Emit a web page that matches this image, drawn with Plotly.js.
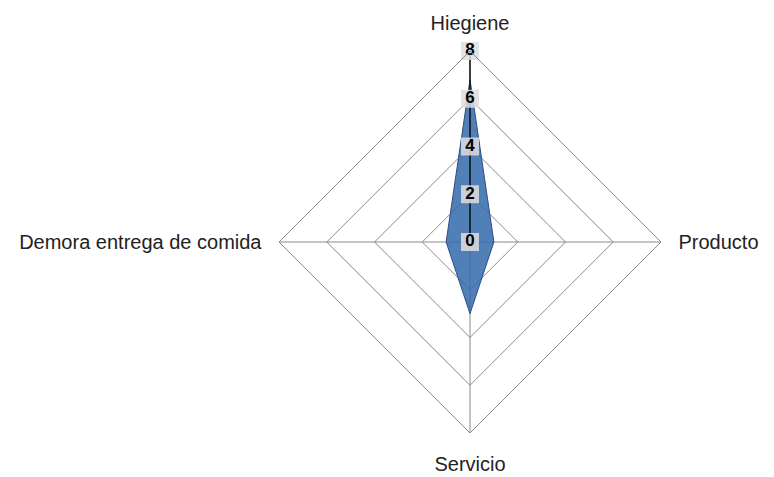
<!DOCTYPE html>
<html>
<head>
<meta charset="utf-8">
<script src="https://cdn.plot.ly/plotly-3.0.1.min.js"></script>
<style>html,body{margin:0;padding:0;background:#fff;}#chart{width:774px;height:477px;}</style>
</head>
<body>
<div id="chart"></div>
<script>
var categories = ["Hiegiene", "Producto", "Servicio", "Demora entrega de comida"];
var values = [6.8, 1, 3, 1];
var radialTicks = [0, 2, 4, 6, 8];
var radialTickText = ["0", "2", "4", "6", "8"];

var closedTheta = categories.concat([categories[0]]);
var closedR = values.concat([values[0]]);
// keep the centre label drawable (a point exactly at the radial minimum is dropped)
var labelR = radialTicks.map(function (v) { return Math.max(v, 1e-6); });

var traces = [
  {
    type: "scatterpolar",
    r: closedR,
    theta: closedTheta,
    mode: "lines",
    fill: "toself",
    fillcolor: "rgba(50,105,172,0.85)",
    line: {color: "#2a4f80", width: 1},
    hoverinfo: "skip",
    showlegend: false
  },
  {
    type: "scatterpolar",
    r: [radialTicks[0], radialTicks[radialTicks.length - 1]],
    theta: [categories[0], categories[0]],
    mode: "lines",
    line: {color: "#111", width: 1.5},
    cliponaxis: false,
    hoverinfo: "skip",
    showlegend: false
  },
  {
    type: "scatterpolar",
    r: labelR,
    theta: radialTicks.map(function () { return categories[0]; }),
    mode: "markers+text",
    text: radialTickText,
    textposition: "middle center",
    cliponaxis: false,
    textfont: {family: "Liberation Sans", size: 17, color: "#000", weight: "bold"},
    marker: {symbol: "square", size: 18, color: "rgba(222,222,222,0.85)", line: {width: 0}},
    hoverinfo: "skip",
    showlegend: false
  }
];

var layout = {
  width: 774,
  height: 477,
  margin: {l: 279, r: 113, t: 51, b: 44},
  paper_bgcolor: "#fff",
  showlegend: false,
  font: {family: "Liberation Sans", size: 20, color: "#222"},
  polar: {
    domain: {x: [0, 1], y: [0, 1]},
    bgcolor: "#fff",
    gridshape: "linear",
    radialaxis: {
      range: [0, 8],
      tickvals: radialTicks,
      showticklabels: false,
      ticks: "",
      showline: false,
      gridcolor: "#8a8a8a",
      gridwidth: 1
    },
    angularaxis: {
      type: "category",
      categoryarray: categories,
      direction: "clockwise",
      rotation: 90,
      showline: true,
      linecolor: "#8a8a8a",
      linewidth: 1,
      gridcolor: "#8a8a8a",
      ticks: "outside",
      ticklen: 13,
      tickcolor: "rgba(0,0,0,0)",
      tickfont: {family: "Liberation Sans", size: 20, color: "#222"}
    }
  }
};

Plotly.newPlot("chart", traces, layout, {staticPlot: true, displayModeBar: false});
</script>
</body>
</html>
